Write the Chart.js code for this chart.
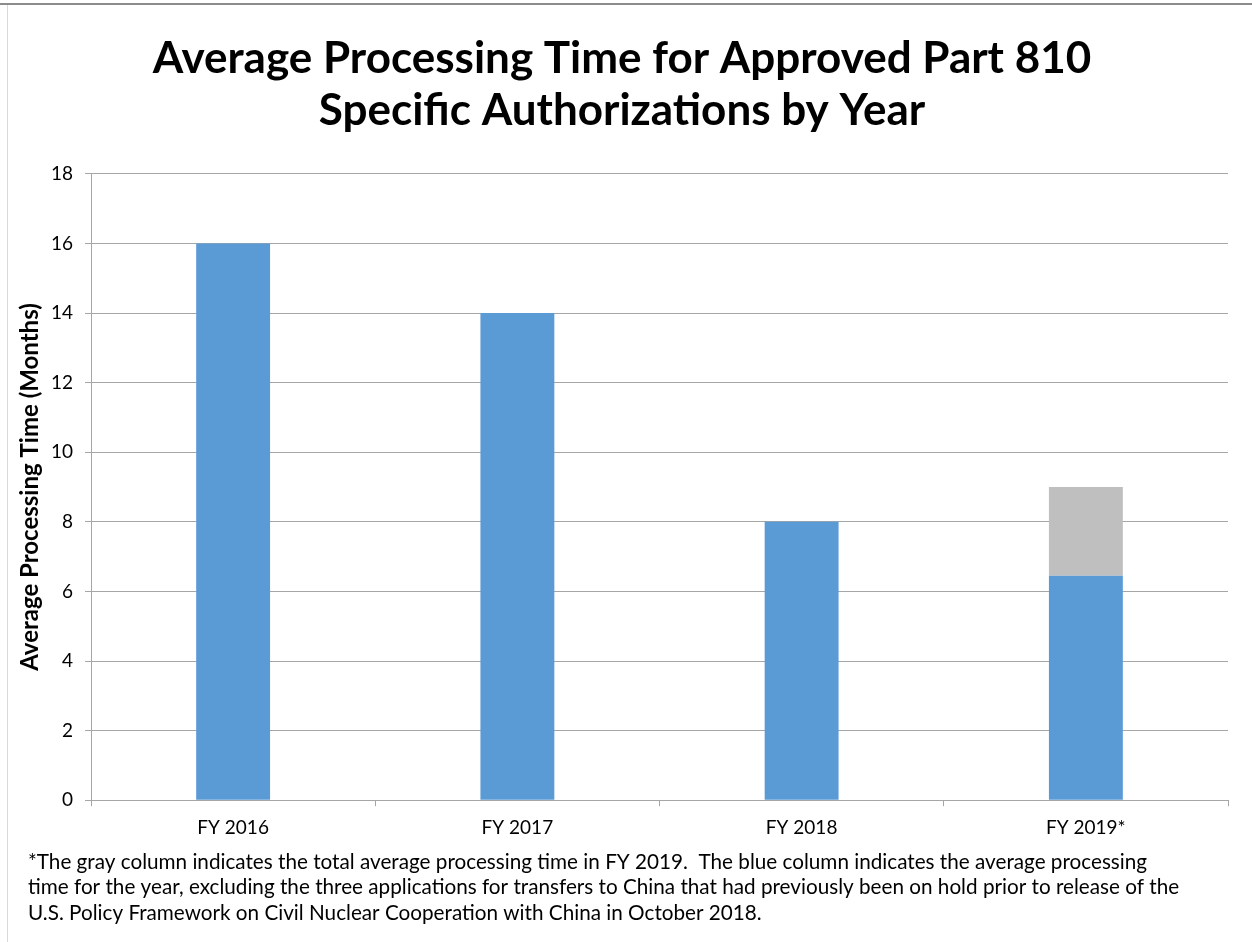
<!DOCTYPE html>
<html>
<head>
<meta charset="utf-8">
<script src="https://cdn.jsdelivr.net/npm/chart.js@4"></script>
<style>
  html, body { margin: 0; padding: 0; background: #fff; }
  #wrap { position: relative; width: 1252px; height: 942px; }
  #frameTop { position: absolute; left: 0; top: 3px; width: 1252px; height: 2px; background: #8c8c8c; }
  #frameLeft { position: absolute; left: 7px; top: 5px; width: 1px; height: 937px; background: #d9d9d9; }
</style>
</head>
<body>
<div id="wrap">
  <canvas id="chart" width="1252" height="942"></canvas>
  <div id="frameTop"></div>
  <div id="frameLeft"></div>
</div>
<script>
// chart data
const years = ['FY 2016', 'FY 2017', 'FY 2018', 'FY 2019*'];
const blueValues = [16, 14, 8, 6.45];   // average excluding China applications
const grayExtra = [null, null, null, 2.55]; // total 9 minus blue part
const yTicks = [0, 2, 4, 6, 8, 10, 12, 14, 16, 18];

const titleLines = ['Average Processing Time for Approved Part 810', 'Specific Authorizations by Year'];
const noteLines = [
    '*The gray column indicates the total average processing time in FY 2019.  The blue column indicates the average processing',
    'time for the year, excluding the three applications for transfers to China that had previously been on hold prior to release of the',
    'U.S. Policy Framework on Civil Nuclear Cooperation with China in October 2018.'
];

const fontFamily = 'Lato, "Open Sans", sans-serif';

// footnote under the chart, left aligned to the frame
const footnotePlugin = {
    id: 'footnote',
    afterDraw(chart) {
        const ctx = chart.ctx;
        ctx.save();
        ctx.fillStyle = '#000';
        ctx.font = '20.7px ' + fontFamily;
        ctx.textBaseline = 'middle';
        ctx.textAlign = 'left';
        const firstY = chart.height - 80;
        noteLines.forEach((line, i) => {
            ctx.fillText(line, 28, firstY + i * 25.5);
        });
        ctx.restore();
    }
};

new Chart(document.querySelector('#chart').getContext('2d'), {
    type: 'bar',
    data: {
        labels: years,
        datasets: [
            {
                label: 'Excluding China',
                data: blueValues,
                backgroundColor: '#5b9bd5',
                barPercentage: 0.26,
                categoryPercentage: 1
            },
            {
                label: 'Total',
                data: grayExtra,
                backgroundColor: '#bfbfbf',
                barPercentage: 0.26,
                categoryPercentage: 1
            }
        ]
    },
    options: {
        responsive: false,
        animation: false,
        layout: { padding: { left: 16, right: 24, top: 10, bottom: 93 } },
        plugins: {
            legend: { display: false },
            tooltip: { enabled: false },
            title: {
                display: true,
                text: titleLines,
                color: '#000',
                font: { family: fontFamily, size: 44, weight: 'bold', lineHeight: 1.18 },
                padding: { top: 23, bottom: 37 }
            }
        },
        scales: {
            x: {
                stacked: true,
                grid: {
                    display: true,
                    offset: true,
                    drawOnChartArea: false,
                    drawTicks: true,
                    tickLength: 6,
                    color: '#a6a6a6'
                },
                border: { color: '#a6a6a6', width: 1 },
                ticks: {
                    color: '#000',
                    font: { family: fontFamily, size: 19 },
                    padding: 10
                }
            },
            y: {
                stacked: true,
                min: 0,
                max: 18,
                afterBuildTicks: axis => { axis.ticks = yTicks.map(v => ({ value: v })); },
                afterFit: axis => { axis.width = 75; },
                grid: {
                    color: '#a6a6a6',
                    tickLength: 6
                },
                border: { color: '#a6a6a6', width: 1 },
                ticks: {
                    color: '#000',
                    font: { family: fontFamily, size: 19 },
                    padding: 12
                },
                title: {
                    display: true,
                    text: 'Average Processing Time (Months)',
                    color: '#000',
                    font: { family: fontFamily, size: 24, weight: 'bold' },
                    padding: { top: 0, bottom: 8 }
                }
            }
        }
    },
    plugins: [footnotePlugin]
});
</script>
</body>
</html>
